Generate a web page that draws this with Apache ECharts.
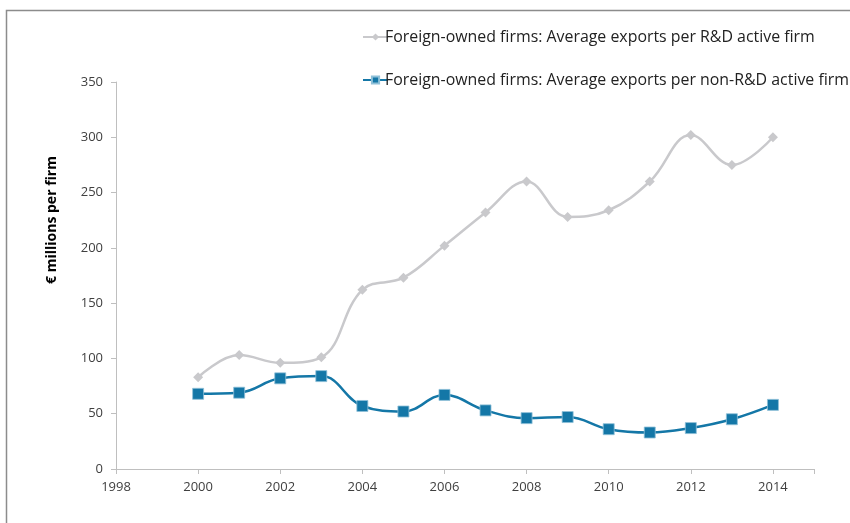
<!DOCTYPE html>
<html>
<head>
<meta charset="utf-8">
<script src="https://cdn.jsdelivr.net/npm/echarts@6/dist/echarts.min.js"></script>
<style>html,body{margin:0;padding:0;background:#fff;}#c{width:850px;height:523px;}</style>
</head>
<body>
<div id="c"></div>
<script>
const years = [2000,2001,2002,2003,2004,2005,2006,2007,2008,2009,2010,2011,2012,2013,2014];
const rdActive = [83,103,96,101,162,173,202,232,260,228,234,260,302,275,300];
const nonRdActive = [68,69,82,84,57,52,67,53,46,47,36,33,37,45,58];
const seriesNames = ['Foreign-owned firms: Average exports per R&D active firm','Foreign-owned firms: Average exports per non-R&D active firm'];
const yAxisName = '€ millions per firm';

const chart = echarts.init(document.getElementById('c'));
const font = '"Open Sans", "Noto Sans", sans-serif';
chart.setOption({
  animation: false,
  textStyle: {fontFamily: font},
  graphic: [
    {type:'polyline', shape:{points:[[6.5,523],[6.5,10.5],[850,10.5]]}, style:{stroke:'#8c8c8c', lineWidth:1.5, fill:null}},
    {type:'text', x: 52, y: 220, rotation: Math.PI/2,
     style:{text: yAxisName, fontSize: 14, fontWeight: 'bold', fill: '#000', fontFamily: font, align: 'center', verticalAlign: 'middle'}}
  ],
  legend: {
    left: 357, top: 24, orient: 'vertical', itemGap: 27, itemWidth: 25, itemHeight: 9,
    textStyle: {fontSize: 15.9, color: '#222', fontFamily: font, padding:[0,0,0,-8]},
    data: [seriesNames[0], seriesNames[1]]
  },
  grid: {left: 116, right: 36, top: 82, bottom: 54, containLabel: false},
  xAxis: {
    type: 'value', min: 1998, max: 2015, interval: 2,
    axisLine: {lineStyle: {color: '#bfbfbf', width: 1}},
    axisTick: {show: true, length: 5, lineStyle: {color: '#bfbfbf'}},
    axisLabel: {color: '#404040', fontSize: 13, margin: 12, formatter: v => v > 2014 ? '' : String(v)},
    splitLine: {show: false}
  },
  yAxis: {
    type: 'value', min: 0, max: 350, interval: 50,
    axisLine: {show: true, lineStyle: {color: '#bfbfbf', width: 1}},
    axisTick: {show: true, length: 5, lineStyle: {color: '#bfbfbf'}},
    axisLabel: {color: '#404040', fontSize: 13, margin: 13},
    splitLine: {show: false}
  },
  series: [
    {
      name: seriesNames[0], type: 'line', smooth: 0.4,
      data: years.map((y,i) => [y, rdActive[i]]),
      symbol: 'diamond', symbolSize: 10,
      lineStyle: {color: '#c9c9cc', width: 2.5},
      itemStyle: {color: '#c9c9cc'}
    },
    {
      name: seriesNames[1], type: 'line', smooth: 0.4,
      data: years.map((y,i) => [y, nonRdActive[i]]),
      symbol: 'rect', symbolSize: 11,
      lineStyle: {color: '#1477a7', width: 2.5},
      itemStyle: {color: '#1477a7', borderColor: '#8fc0d8', borderWidth: 0.8}
    }
  ]
});
</script>
</body>
</html>
